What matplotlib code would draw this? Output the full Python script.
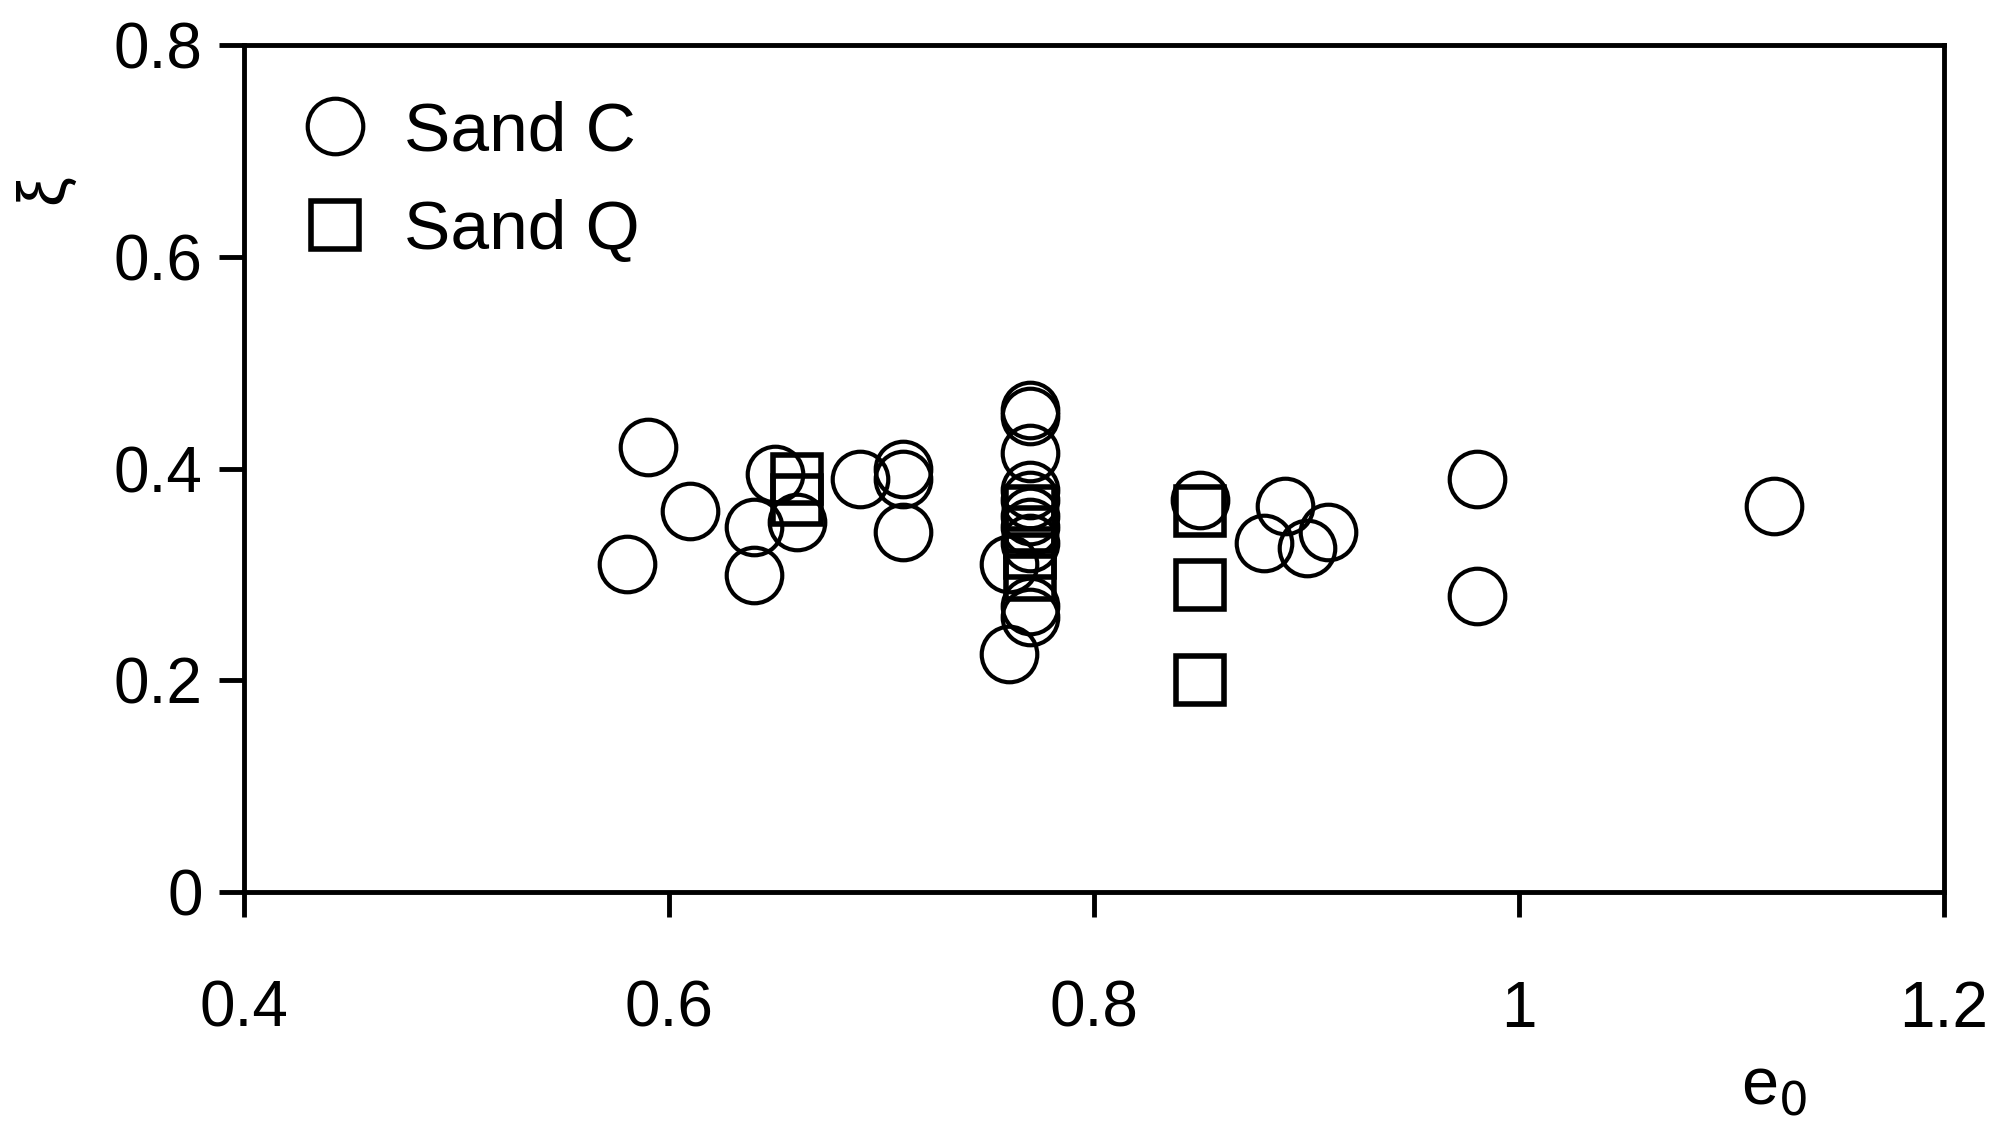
import matplotlib.pyplot as plt

plt.rcParams['font.family'] = ['Liberation Sans', 'DejaVu Sans']

sand_c_e0 = [0.58, 0.59, 0.61, 0.64, 0.64, 0.65, 0.66, 0.69, 0.71, 0.71, 0.71,
             0.76, 0.76, 0.77, 0.77, 0.77, 0.77, 0.77, 0.77, 0.77, 0.77, 0.77, 0.77,
             0.85, 0.88, 0.89, 0.90, 0.91, 0.98, 0.98, 1.12]
sand_c_xi = [0.31, 0.42, 0.36, 0.345, 0.30, 0.395, 0.35, 0.39, 0.40, 0.39, 0.34,
             0.31, 0.225, 0.455, 0.45, 0.415, 0.38, 0.37, 0.355, 0.345, 0.33, 0.27, 0.26,
             0.37, 0.33, 0.365, 0.325, 0.34, 0.39, 0.28, 0.365]
sand_q_e0 = [0.66, 0.66, 0.77, 0.77, 0.77, 0.77, 0.85, 0.85, 0.85]
sand_q_xi = [0.39, 0.37, 0.36, 0.34, 0.32, 0.30, 0.36, 0.29, 0.20]

fig = plt.figure(figsize=(20.02, 11.21), dpi=100)
ax = fig.add_axes([0.122, 0.204, 0.849, 0.756])
ax.plot(sand_c_e0, sand_c_xi, 'o', ms=40, mfc='none', mec='black', mew=3, label='Sand C')
ax.plot(sand_q_e0, sand_q_xi, 's', ms=34, mfc='none', mec='black', mew=4, label='Sand Q')
ax.set_xlim(0.4, 1.2)
ax.set_ylim(0, 0.8)
ax.set_xticks([0.4, 0.6, 0.8, 1.0, 1.2])
ax.set_xticklabels(['0.4', '0.6', '0.8', '1', '1.2'])
ax.set_yticks([0, 0.2, 0.4, 0.6, 0.8])
ax.set_yticklabels(['0', '0.2', '0.4', '0.6', '0.8'])
for s in ax.spines.values():
    s.set_linewidth(3.5)
ax.tick_params(direction='out', length=18, width=3.5, labelsize=46)
ax.tick_params(axis='x', pad=45)
ax.tick_params(axis='y', pad=12)
ax.text(0.9, -0.25, 'e$_0$', transform=ax.transAxes, fontsize=48, ha='center')
ax.text(-0.117, 0.83, 'ξ', transform=ax.transAxes, fontsize=48, rotation=90,
        ha='center', va='center')
ax.legend(loc='upper left', fontsize=50, frameon=False, handletextpad=0.5,
          labelspacing=0.5, borderpad=0.3, handlelength=1.0, markerscale=1.0)
fig.savefig('out.png', dpi=100)
